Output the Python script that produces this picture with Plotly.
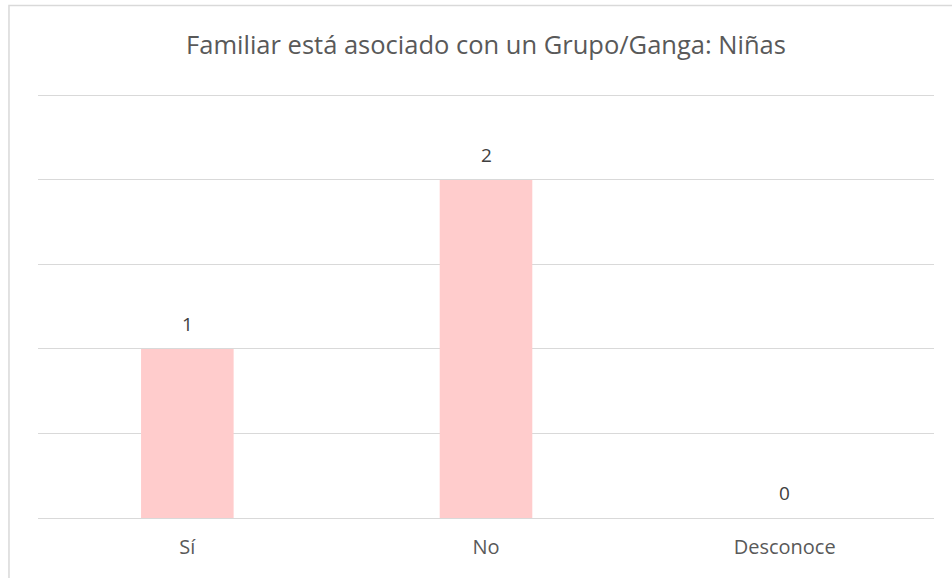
import plotly.graph_objects as go

categories = ["Sí", "No", "Desconoce"]
values = [1, 2, 0]
title_text = "Familiar está asociado con un Grupo/Ganga: Niñas"

BAR_COLOR = "#FFCCCC"
GRID_COLOR = "#D9D9D9"
TEXT_COLOR = "#595959"
FONT = "Open Sans"

fig = go.Figure(
    go.Bar(
        x=categories,
        y=values,
        marker=dict(color=BAR_COLOR, line=dict(width=0)),
        hoverinfo="skip",
    )
)

# value labels above each bar
for cat, val in zip(categories, values):
    fig.add_annotation(
        x=cat, y=val, text=str(val), showarrow=False,
        yanchor="bottom", yshift=10,
        font=dict(family=FONT, size=19, color="#404040"),
    )

# outer chart frame
fig.add_shape(
    type="rect", xref="paper", yref="paper",
    x0=-0.0324, x1=1.05, y0=-0.3, y1=1.1889,
    line=dict(color=GRID_COLOR, width=1.5), fillcolor="rgba(0,0,0,0)",
    layer="below",
)

fig.update_layout(
    width=952, height=578,
    margin=dict(l=38, r=18, t=86.5, b=60),
    paper_bgcolor="white", plot_bgcolor="white",
    bargap=0.69,
    showlegend=False,
    title=dict(
        text=title_text, x=0.5, xref="paper", xanchor="center",
        y=1 - 45 / 578, yanchor="middle",
        font=dict(family=FONT, size=25.5, color=TEXT_COLOR),
    ),
    font=dict(family=FONT, color=TEXT_COLOR),
)
fig.update_xaxes(
    showgrid=False, showline=False, ticks="",
    tickfont=dict(family=FONT, size=20, color=TEXT_COLOR),
    ticklabelstandoff=15,
)
fig.update_yaxes(
    range=[0, 2.55], tickvals=[0, 0.5, 1, 1.5, 2, 2.5], showticklabels=False,
    showgrid=True, gridcolor=GRID_COLOR, gridwidth=1.3,
    zeroline=True, zerolinecolor=GRID_COLOR, zerolinewidth=1.3,
    showline=False,
)

fig.write_html("out.html")
